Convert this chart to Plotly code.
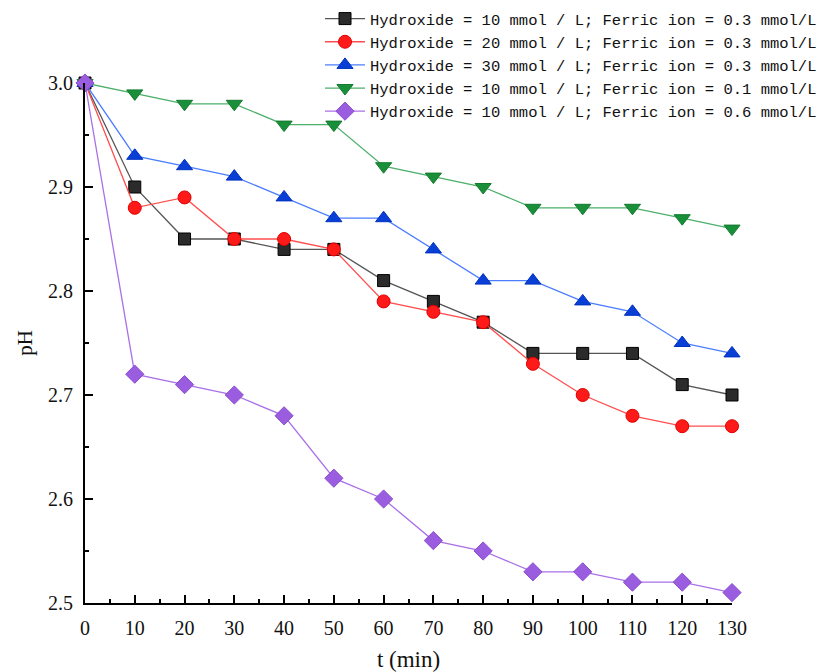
import plotly.graph_objects as go

t = [0, 10, 20, 30, 40, 50, 60, 70, 80, 90, 100, 110, 120, 130]
names = [
    "Hydroxide = 10 mmol / L; Ferric ion = 0.3 mmol/L",
    "Hydroxide = 20 mmol / L; Ferric ion = 0.3 mmol/L",
    "Hydroxide = 30 mmol / L; Ferric ion = 0.3 mmol/L",
    "Hydroxide = 10 mmol / L; Ferric ion = 0.1 mmol/L",
    "Hydroxide = 10 mmol / L; Ferric ion = 0.6 mmol/L",
]
ph_oh10_fe03 = [3.00, 2.90, 2.85, 2.85, 2.84, 2.84, 2.81, 2.79, 2.77, 2.74, 2.74, 2.74, 2.71, 2.70]
ph_oh20_fe03 = [3.00, 2.88, 2.89, 2.85, 2.85, 2.84, 2.79, 2.78, 2.77, 2.73, 2.70, 2.68, 2.67, 2.67]
ph_oh30_fe03 = [3.00, 2.93, 2.92, 2.91, 2.89, 2.87, 2.87, 2.84, 2.81, 2.81, 2.79, 2.78, 2.75, 2.74]
ph_oh10_fe01 = [3.00, 2.99, 2.98, 2.98, 2.96, 2.96, 2.92, 2.91, 2.90, 2.88, 2.88, 2.88, 2.87, 2.86]
ph_oh10_fe06 = [3.00, 2.72, 2.71, 2.70, 2.68, 2.62, 2.60, 2.56, 2.55, 2.53, 2.53, 2.52, 2.52, 2.51]

series = [ph_oh10_fe03, ph_oh20_fe03, ph_oh30_fe03, ph_oh10_fe01, ph_oh10_fe06]
styles = [
    dict(symbol="square", mcolor="#2b2b2b", mline="#000000", lcolor="#555555", size=12),
    dict(symbol="circle", mcolor="#ff1a1a", mline="#e00000", lcolor="#ff4d4d", size=13),
    dict(symbol="triangle-up", mcolor="#0a3fd6", mline="#0030c0", lcolor="#4a7dff", size=14),
    dict(symbol="triangle-down", mcolor="#1a8f3a", mline="#137a2e", lcolor="#4caf6a", size=14),
    dict(symbol="diamond", mcolor="#9b5de0", mline="#8a4cd0", lcolor="#a970e8", size=14),
]

fig = go.Figure()
for name, y, s in zip(names, series, styles):
    fig.add_trace(go.Scatter(
        x=t, y=y, name=name, mode="lines+markers", cliponaxis=False,
        line=dict(color=s["lcolor"], width=1.3),
        marker=dict(symbol=s["symbol"], size=s["size"], color=s["mcolor"],
                    line=dict(color=s["mline"], width=1)),
    ))

axis_font = dict(family="Liberation Serif, DejaVu Serif, serif", size=20, color="#111")
fig.update_layout(
    width=822, height=672,
    margin=dict(l=85, r=90, t=83, b=69, autoexpand=False),
    plot_bgcolor="white", paper_bgcolor="white",
    showlegend=True,
    legend=dict(
        xref="container", yref="container", x=1.0, xanchor="right", y=0.997, yanchor="top",
        font=dict(family="Liberation Mono, DejaVu Sans Mono, monospace", size=15.5, color="#111"),
        bgcolor="rgba(255,255,255,0)", tracegroupgap=0, itemwidth=40,
    ),
    xaxis=dict(
        range=[0, 130], showgrid=False, zeroline=False, showline=True, linecolor="black", linewidth=2,
        ticks="inside", ticklen=8, tickwidth=1.5, tickcolor="black",
        tickmode="array", tickvals=t, ticktext=[str(v) for v in t],
        tickfont=axis_font, tickangle=0, ticklabelstandoff=6,
        minor=dict(ticks="inside", ticklen=4, tickwidth=1.5, tickcolor="black", dtick=5, showgrid=False),
        title=dict(text="t (min)", font=dict(family="Liberation Serif, DejaVu Serif, serif", size=23, color="#111"), standoff=14),
    ),
    yaxis=dict(
        range=[2.5, 3.0], showgrid=False, zeroline=False, showline=True, linecolor="black", linewidth=2,
        ticks="inside", ticklen=8, tickwidth=1.5, tickcolor="black",
        tickmode="array", tickvals=[2.5, 2.6, 2.7, 2.8, 2.9, 3.0],
        ticktext=["2.5", "2.6", "2.7", "2.8", "2.9", "3.0"],
        tickfont=axis_font, ticklabelstandoff=6,
        minor=dict(ticks="inside", ticklen=4, tickwidth=1.5, tickcolor="black", dtick=0.05, showgrid=False),
        title=dict(text="pH", font=dict(family="Liberation Serif, DejaVu Serif, serif", size=21, color="#111"), standoff=10),
    ),
)

fig.write_html("out.html")
